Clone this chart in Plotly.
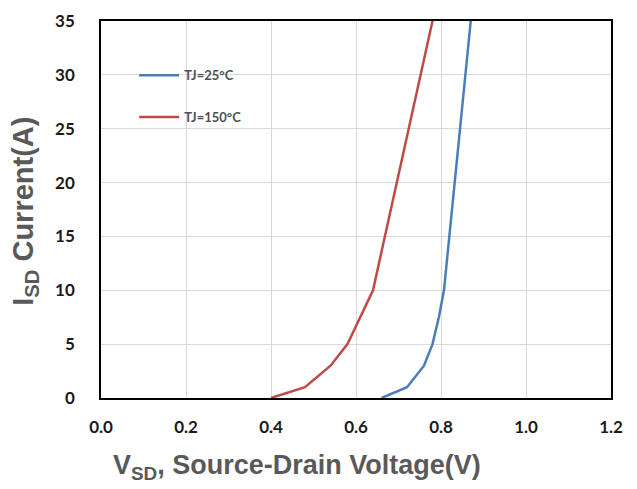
import plotly.graph_objects as go

# Data
vsd_25 = [0.66, 0.72, 0.76, 0.78, 0.795, 0.807, 0.87]
isd_25 = [0, 1, 3, 5, 7.5, 10, 35]
vsd_150 = [0.40, 0.48, 0.54, 0.58, 0.64, 0.78]
isd_150 = [0, 1, 3, 5, 10, 35]

x_ticks = [0.0, 0.2, 0.4, 0.6, 0.8, 1.0, 1.2]
x_tick_labels = ["0.0", "0.2", "0.4", "0.6", "0.8", "1.0", "1.2"]
y_ticks = [0, 5, 10, 15, 20, 25, 30, 35]

fig = go.Figure()
fig.add_trace(go.Scatter(x=vsd_25, y=isd_25, mode="lines", name="<b>TJ=25°C</b>",
                         legendgroup="a",
                         line=dict(color="#4A7EBB", width=2.5)))
fig.add_trace(go.Scatter(x=vsd_150, y=isd_150, mode="lines", name="<b>TJ=150°C</b>",
                         legendgroup="b",
                         line=dict(color="#BE4B48", width=2.5)))

tick_font = dict(family="Lato, Liberation Sans, Arial", size=17, color="#1a1a1a", weight="bold")
title_family = "Liberation Sans, Arial"

# page body has an 8px margin, so the figure is sized/offset accordingly
fig.update_layout(
    width=629, height=481,
    margin=dict(l=93, r=26, t=13, b=91, autoexpand=False),
    paper_bgcolor="white", plot_bgcolor="white",
    showlegend=True,
    legend=dict(x=0.065, y=0.896, xanchor="left", yanchor="top",
                bgcolor="rgba(0,0,0,0)", tracegroupgap=22,
                font=dict(family="Lato, Liberation Sans, Arial", size=13, color="#505050"),
                itemwidth=40),
    xaxis=dict(range=[0, 1.2], tickvals=x_ticks, ticktext=x_tick_labels,
               showgrid=True, gridcolor="#d9d9d9", gridwidth=1,
               showline=True, linecolor="black", linewidth=1.5, mirror=True,
               zeroline=False, ticks="", tickfont=tick_font, automargin=False,
               ticklabelstandoff=13),
    yaxis=dict(range=[0, 35], tickvals=y_ticks,
               showgrid=True, gridcolor="#d9d9d9", gridwidth=1,
               showline=True, linecolor="black", linewidth=1.5, mirror=True,
               zeroline=False, ticks="", tickfont=tick_font, automargin=False,
               ticklabelstandoff=21),
    annotations=[
        dict(text="<b>V<sub>SD</sub>, Source-Drain Voltage(V)</b>", xref="paper", yref="paper",
             x=(297 - 101) / 509, y=-(467 - 398) / 377, xanchor="center", yanchor="middle",
             showarrow=False,
             font=dict(family=title_family, size=27, color="#595959")),
        dict(text="<b>I<sub>SD</sub> Current(A)</b>", xref="paper", yref="paper",
             x=-(101 - 25) / 509, y=(398 - 211) / 377, xanchor="center", yanchor="middle", textangle=-90,
             showarrow=False,
             font=dict(family=title_family, size=29, color="#595959")),
    ],
)

fig.write_html("out.html")
